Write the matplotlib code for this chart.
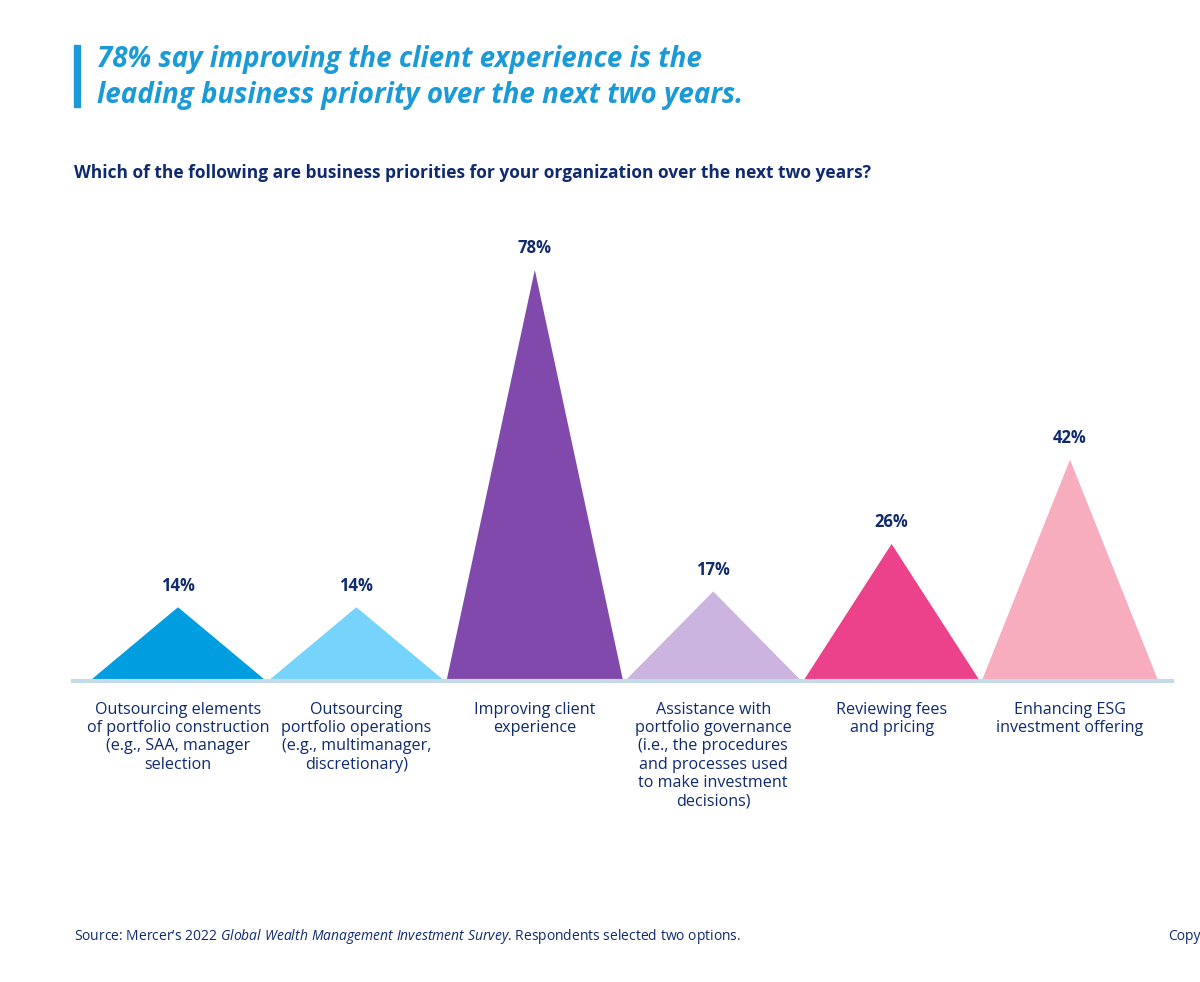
import matplotlib
matplotlib.use("Agg")
import matplotlib.pyplot as plt
from matplotlib.patches import Polygon, Rectangle

plt.rcParams['font.family'] = ['Open Sans', 'DejaVu Sans']
plt.rcParams['mathtext.fontset'] = 'custom'
plt.rcParams['mathtext.it'] = 'Open Sans:italic'
plt.rcParams['mathtext.rm'] = 'Open Sans'

categories = ["Outsourcing elements\nof portfolio construction\n(e.g., SAA, manager\nselection",
              "Outsourcing\nportfolio operations\n(e.g., multimanager,\ndiscretionary)",
              "Improving client\nexperience",
              "Assistance with\nportfolio governance\n(i.e., the procedures\nand processes used\nto make investment\ndecisions)",
              "Reviewing fees\nand pricing",
              "Enhancing ESG\ninvestment offering"]
values = [14, 14, 78, 17, 26, 42]
colors = ["#009de0", "#76d3fb", "#8149ab", "#cbb5e0", "#ec418b", "#f8adbf"]

navy = "#0f2a6e"
W, H = 1200, 982
fig = plt.figure(figsize=(12, 9.82), dpi=100)
ax = fig.add_axes([73/W, (H-681)/H, (1172-73)/W, (681-200)/H])
sp = 178.4
ax.set_xlim(-(178-73)/sp, 5 + (1172-1070)/sp)
ax.set_ylim(0, (681-200)/5.27)
ax.axis('off')
hw = 0.495
for i, (v, c) in enumerate(zip(values, colors)):
    ax.add_patch(Polygon([(i-hw, 0), (i, v), (i+hw, 0)], closed=True, color=c, lw=0))
    ax.text(i, v + 2.4, f"{v}%", ha='center', va='bottom', fontsize=12,
            fontweight='bold', color=navy)
    ax.text(i, -3.9, categories[i], ha='center', va='top', fontsize=11.6,
            color=navy, linespacing=1.2, clip_on=False)
ax.axhline(0, color="#c5dbe8", lw=3, clip_on=False)

fig.patches.append(Rectangle((74/W, 1-107/H), 6/W, 62/H, transform=fig.transFigure,
                             color="#1a9ad6"))
fig.text(97/W, 1-60/H, "78% say improving the client experience is the",
         fontsize=20, style='italic', fontweight='bold', color="#1a9ad6", va='center')
fig.text(97/W, 1-95/H, "leading business priority over the next two years.",
         fontsize=20, style='italic', fontweight='bold', color="#1a9ad6", va='center')
fig.text(74/W, 1-173/H, "Which of the following are business priorities for your organization over the next two years?",
         fontsize=12.5, fontweight='bold', color=navy, va='center')
fig.text(74/W, 1-937/H, "Source: Mercer\u2019s $\\it{2022\\ Global\\ Wealth\\ Management\\ Investment\\ Survey}$. Respondents selected two options.",
         fontsize=10, color=navy, va='center')
fig.text(1168/W, 1-937/H, "Copyright", fontsize=10, color=navy, va='center')
fig.savefig("out.png", dpi=100, facecolor='white')
